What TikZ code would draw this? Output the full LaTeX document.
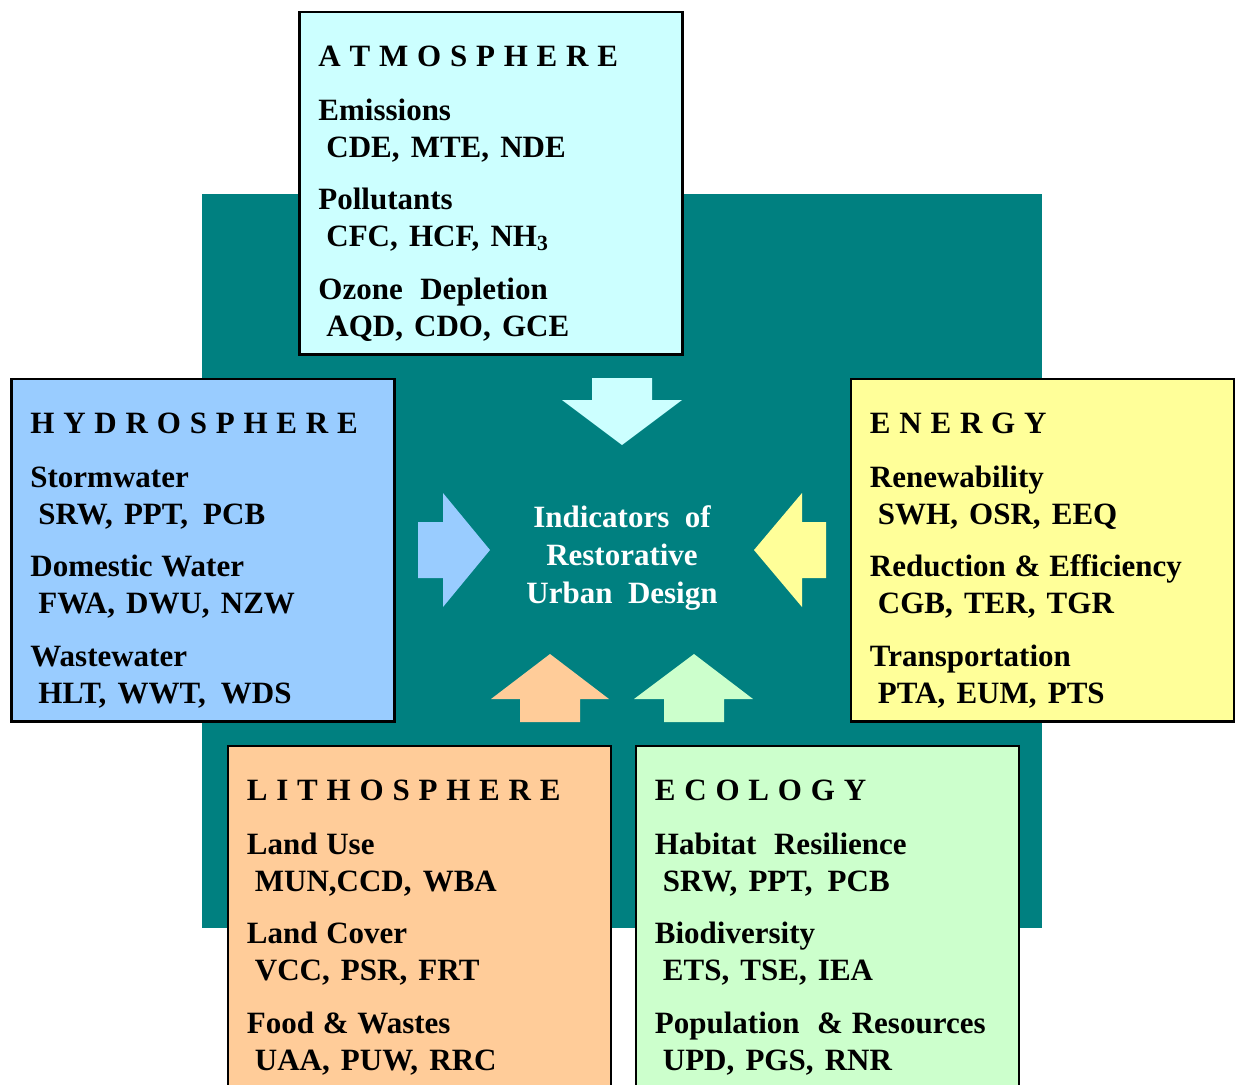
\documentclass[tikz,border=0pt]{standalone}
\usepackage{fontspec}
\setmainfont{Liberation Serif}
\usetikzlibrary{calc}

\definecolor{deepteal}{HTML}{008080}
\definecolor{atmcol}{HTML}{CCFFFF}
\definecolor{hydcol}{HTML}{99CCFF}
\definecolor{enecol}{HTML}{FFFF99}
\definecolor{litcol}{HTML}{FFCC99}
\definecolor{ecocol}{HTML}{CCFFCC}

% heading, then three label / code pairs, placed on fixed baselines
\newcommand{\panellines}[8]{%
  \node[paneltext] (#1-t0) at ($(#1.north west)+(18.5,54)$)  {#2};
  \node[paneltext] (#1-t1) at ($(#1.north west)+(18.5,108)$) {#3};
  \node[codetext]  (#1-t2) at ($(#1.north west)+(26.5,145)$) {#4};
  \node[paneltext] (#1-t3) at ($(#1.north west)+(18.5,197)$) {#5};
  \node[codetext]  (#1-t4) at ($(#1.north west)+(26.5,234)$) {#6};
  \node[paneltext] (#1-t5) at ($(#1.north west)+(18.5,287)$) {#7};
  \node[codetext]  (#1-t6) at ($(#1.north west)+(26.5,324)$) {#8};
}

\begin{document}
\begin{tikzpicture}[x=0.5pt,y=-0.5pt,
  panelbox/.style={draw=black, line width=1.3pt, inner sep=0pt, outer sep=0pt,
    anchor=north west, minimum width=191.5pt, minimum height=171.25pt},
  paneltext/.style={font=\fontsize{15.5}{18}\selectfont\bfseries,
    text=black, inner sep=0pt, anchor=base west,
    execute at begin node={\spaceskip=4.4pt\relax}},
  codetext/.style={paneltext,
    execute at begin node={\spaceskip=5.6pt\relax}},
  corelabel/.style={font=\fontsize{15.5}{18}\selectfont\bfseries, text=white,
    inner sep=0pt, anchor=base}]

\useasboundingbox (0,0) rectangle (1235,1084);
\clip (0,0) rectangle (1235,1084);

% central field
\fill[deepteal] (202,194) rectangle (1042,928);

% block arrows pointing to the centre
\fill[atmcol] (592,378) -- (652,378) -- (652,400) -- (682,400) -- (622,445)
  -- (562,400) -- (592,400) -- cycle;
\fill[hydcol] (418,522) -- (443,522) -- (443,493) -- (490,550) -- (443,607)
  -- (443,578) -- (418,578) -- cycle;
\fill[enecol] (826,522) -- (802,522) -- (802,493) -- (754,550) -- (802,607)
  -- (802,578) -- (826,578) -- cycle;
\fill[litcol] (520,722) -- (520,699) -- (491,699) -- (550,654) -- (609,699)
  -- (580,699) -- (580,722) -- cycle;
\fill[ecocol] (664,722) -- (664,699) -- (634,699) -- (694,654) -- (753,699)
  -- (724,699) -- (724,722) -- cycle;

% centre title
\node[corelabel] (core1) at (622,527) {Indicators~ of};
\node[corelabel] (core2) at (622,565) {Restorative};
\node[corelabel] (core3) at (622,603) {Urban~ Design};

% panels
\node[panelbox, fill=atmcol] (atm) at (299.5,12) {};
\node[panelbox, fill=hydcol] (hyd) at (11.5,379) {};
\node[panelbox, fill=enecol] (ene) at (851,379) {};
\node[panelbox, fill=litcol, minimum height=180pt] (lit) at (228,746) {};
\node[panelbox, fill=ecocol, minimum height=180pt] (eco) at (636,746) {};

\panellines{atm}{A T M O S P H E R E}{Emissions}{CDE, MTE, NDE}%
  {Pollutants}{CFC, HCF, NH\textsubscript{3}}{Ozone~ Depletion}{AQD, CDO, GCE}
\panellines{hyd}{H Y D R O S P H E R E}{Stormwater}{SRW, PPT,\hspace{2pt} PCB}%
  {Domestic Water}{FWA, DWU, NZW}{Wastewater}{HLT, WWT,\hspace{2pt} WDS}
\panellines{ene}{E N E R G Y}{Renewability}{SWH, OSR, EEQ}%
  {Reduction \& Efficiency}{CGB, TER, TGR}{Transportation}{PTA, EUM, PTS}
\panellines{lit}{L I T H O S P H E R E}{Land Use}{MUN,CCD, WBA}%
  {Land Cover}{VCC, PSR, FRT}{Food \& Wastes}{UAA, PUW, RRC}
\panellines{eco}{E C O L O G Y}{Habitat~ Resilience}{SRW, PPT,\hspace{2pt} PCB}%
  {Biodiversity}{ETS, TSE, IEA}{Population~ \& Resources}{UPD, PGS, RNR}

\end{tikzpicture}
\end{document}
